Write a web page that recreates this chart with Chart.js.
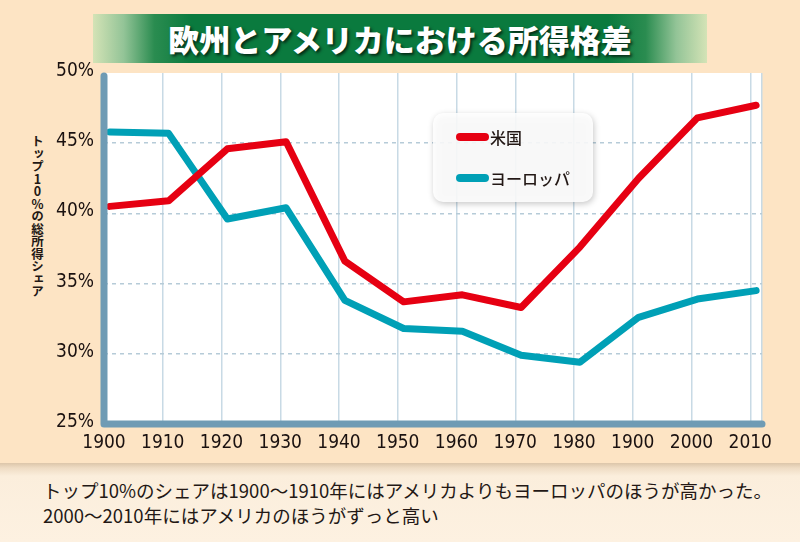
<!DOCTYPE html>
<html>
<head>
<meta charset="utf-8">
<script src="https://cdn.jsdelivr.net/npm/chart.js@4"></script>
<style>
  html, body { margin: 0; padding: 0; }
  body {
    width: 800px; height: 542px; position: relative; overflow: hidden;
    background: #fde4c4;
    font-family: "Noto Sans CJK JP", "Noto Sans", sans-serif;
  }
  #lower {
    position: absolute; left: 0; top: 463px; width: 800px; height: 79px;
    background: linear-gradient(to bottom, #dcc6aa 0px, #efdcc4 5px, #fbeedc 13px, #fdf1e1 100%);
  }
  #banner {
    position: absolute; left: 93px; top: 14px; width: 614px; height: 49px;
    background: linear-gradient(to right, #d4e3b6 0%, #93c497 5%, #2a8c50 10%, #0a7a3e 16%, #0a7a3e 84%, #2a8c50 90%, #93c497 95%, #d4e3b6 100%);
    color: #fff; font-weight: 900; font-size: 31px; line-height: 50px; text-align: center;
    text-shadow: 2px 2px 3px rgba(0,0,0,0.65);
  }
  #ytitle {
    position: absolute; left: 29px; top: 135px;
    writing-mode: vertical-rl; text-orientation: upright;
    font-size: 12.5px; font-weight: 700; color: #231815; line-height: 16px; letter-spacing: 0;
  }
  #caption {
    position: absolute; left: 43px; top: 478px;
    font-size: 18.5px; line-height: 25px; color: #231815; white-space: nowrap;
  }
  canvas { position: absolute; left: 0; top: 0; }
</style>
</head>
<body>
<div id="lower"></div>
<div id="banner">欧州とアメリカにおける所得格差</div>
<div id="ytitle">トップ10%の総所得シェア</div>
<div id="caption">トップ10%のシェアは1900〜1910年にはアメリカよりもヨーロッパのほうが高かった。<br>2000〜2010年にはアメリカのほうがずっと高い</div>
<canvas id="chart" width="800" height="542"></canvas>
<script>
// data
const years = [1901, 1911, 1921, 1931, 1941, 1951, 1961, 1971, 1981, 1991, 2001, 2011];
const usa = [40.5, 40.9, 44.6, 45.1, 36.6, 33.7, 34.2, 33.3, 37.6, 42.5, 46.8, 47.7];
const europe = [45.8, 45.7, 39.6, 40.4, 33.8, 31.8, 31.6, 29.9, 29.4, 32.6, 33.9, 34.5];
const tickYears = [1900, 1910, 1920, 1930, 1940, 1950, 1960, 1970, 1980, 1990, 2000, 2010];
const tickLabels = ['1900', '1910', '1920', '1930', '1940', '1950', '1960', '1970', '1980', '1900', '2000', '2010'];
const seriesNames = ['米国', 'ヨーロッパ'];

const RED = '#e60012';
const BLUE = '#00a0b6';
const AXIS = '#6f9bb4';
const TEXT = '#231815';
const TICK_FONT = '"Liberation Sans Narrow", "DejaVu Sans Condensed", sans-serif';

const plotBg = {
  id: 'plotBg',
  beforeDraw(chart) {
    const {ctx, chartArea: a} = chart;
    ctx.save();
    ctx.fillStyle = '#ffffff';
    ctx.fillRect(a.left, a.top, a.right - a.left, a.bottom - a.top);
    ctx.restore();
  }
};

// thick L-shaped axis with round ends, drawn over the lines
const axisLines = {
  id: 'axisLines',
  afterDatasetsDraw(chart) {
    const {ctx, chartArea: a} = chart;
    ctx.save();
    ctx.strokeStyle = AXIS;
    ctx.lineWidth = 7;
    ctx.lineCap = 'round';
    ctx.lineJoin = 'round';
    ctx.beginPath();
    ctx.moveTo(a.left, a.top + 3);
    ctx.lineTo(a.left, a.bottom);
    ctx.lineTo(a.right, a.bottom);
    ctx.stroke();
    ctx.restore();
  }
};

// legend box inside the plot
const boxLegend = {
  id: 'boxLegend',
  afterDatasetsDraw(chart) {
    const {ctx} = chart;
    const x = 433, y = 113, w = 160, h = 89, r = 10;
    ctx.save();
    ctx.shadowColor = 'rgba(0,0,0,0.25)';
    ctx.shadowBlur = 6;
    ctx.shadowOffsetX = 1;
    ctx.shadowOffsetY = 2;
    ctx.fillStyle = 'rgba(255,255,255,0.88)';
    ctx.beginPath();
    ctx.roundRect(x, y, w, h, r);
    ctx.fill();
    ctx.restore();

    ctx.save();
    chart.data.datasets.forEach((ds, i) => {
      const ly = y + 24 + i * 41;
      ctx.strokeStyle = ds.borderColor;
      ctx.lineWidth = 8;
      ctx.lineCap = 'round';
      ctx.beginPath();
      ctx.moveTo(x + 27, ly);
      ctx.lineTo(x + 52, ly);
      ctx.stroke();
      ctx.fillStyle = TEXT;
      ctx.font = '500 16px "Noto Sans CJK JP"';
      ctx.textBaseline = 'middle';
      ctx.fillText(ds.label, x + 57, ly + 1);
    });
    ctx.restore();
  }
};

const toPoints = vals => vals.map((v, i) => ({x: years[i], y: v}));

new Chart(document.getElementById('chart'), {
  type: 'line',
  data: {
    datasets: [
      {label: seriesNames[0], data: toPoints(usa), borderColor: RED, borderWidth: 7},
      {label: seriesNames[1], data: toPoints(europe), borderColor: BLUE, borderWidth: 7}
    ]
  },
  options: {
    responsive: false,
    animation: false,
    devicePixelRatio: 1,
    layout: {padding: {left: 0, top: 73, right: 38, bottom: 88}},
    elements: {
      line: {tension: 0, borderCapStyle: 'round', borderJoinStyle: 'round'},
      point: {radius: 0}
    },
    scales: {
      x: {
        type: 'linear',
        min: 1900,
        max: 2012,
        afterBuildTicks: s => { s.ticks = tickYears.concat([2012]).map(v => ({value: v})); },
        afterFit: s => { s.height = 30; },
        grid: {color: '#c8dae5', lineWidth: 1.5, drawTicks: false},
        border: {display: false},
        ticks: {
          autoSkip: false, maxRotation: 0, padding: 8, color: '#1a1110',
          font: {family: TICK_FONT, size: 19},
          callback: (v, i) => tickLabels[i] ?? ''
        }
      },
      y: {
        min: 25,
        max: 50,
        afterFit: s => { s.width = 104; },
        grid: {
          color: c => (c.tick.value === 50 || c.tick.value === 25) ? 'rgba(0,0,0,0)' : '#b6cbd8',
          lineWidth: 1.5, drawTicks: false
        },
        border: {display: false, dash: [4, 4]},
        ticks: {
          stepSize: 5, padding: 10, labelOffset: -2, color: '#1a1110',
          font: {family: TICK_FONT, size: 19},
          callback: v => v + '%'
        }
      }
    },
    plugins: {
      legend: {display: false},
      tooltip: {enabled: false}
    }
  },
  plugins: [plotBg, axisLines, boxLegend]
});
</script>
</body>
</html>
